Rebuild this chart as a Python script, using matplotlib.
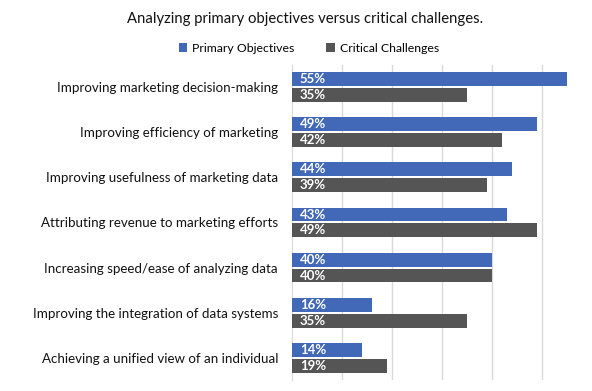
import matplotlib.pyplot as plt
import numpy as np

plt.rcParams['font.family'] = ['Lato', 'DejaVu Sans']

categories = [
    "Improving marketing decision-making",
    "Improving efficiency of marketing",
    "Improving usefulness of marketing data",
    "Attributing revenue to marketing efforts",
    "Increasing speed/ease of analyzing data",
    "Improving the integration of data systems",
    "Achieving a unified view of an individual",
]
primary = [55, 49, 44, 43, 40, 16, 14]
critical = [35, 42, 39, 49, 40, 35, 19]

blue = '#4169B8'
gray = '#555555'

fig = plt.figure(figsize=(5.92, 3.91), dpi=100)
ax = fig.add_axes([0.4932, 0.0281, 0.5068, 0.8057])

y = np.arange(len(categories))
h = 0.311
off = (h + 2 / 45) / 2

b1 = ax.barh(y - off, primary, height=h, color=blue, zorder=3)
b2 = ax.barh(y + off, critical, height=h, color=gray, zorder=3)

for bars, vals in ((b1, primary), (b2, critical)):
    for bar, v in zip(bars, vals):
        ax.text(1.6, bar.get_y() + bar.get_height() / 2, f"{v}%",
                color='white', fontweight='bold', fontsize=9.5,
                va='center', ha='left', zorder=4)

ax.set_xlim(0, 60)
ax.set_ylim(len(categories) - 0.5, -0.5)
ax.set_xticks([10, 20, 30, 40, 50])
ax.set_xticklabels([])
ax.tick_params(axis='x', length=0)
ax.grid(axis='x', color='#D9D9D9', linewidth=1, zorder=0)
ax.set_yticks(y)
ax.set_yticklabels(categories, fontsize=9.6, color='#111111')
ax.tick_params(axis='y', length=0, pad=10)
for s in ('top', 'right', 'bottom'):
    ax.spines[s].set_visible(False)
ax.spines['left'].set_color('#D9D9D9')

fig.text(0.516, 0.951, "Analyzing primary objectives versus critical challenges.",
         ha='center', va='center', fontsize=10.7, color='#111111')

fig.legend([b1, b2], ["Primary Objectives", "Critical Challenges"],
           loc='center', bbox_to_anchor=(0.522, 0.877), ncol=2, frameon=False,
           fontsize=8.8, handlelength=0.7, handleheight=0.7, columnspacing=2.6,
           handletextpad=0.4)

fig.savefig('out.png', dpi=100)
